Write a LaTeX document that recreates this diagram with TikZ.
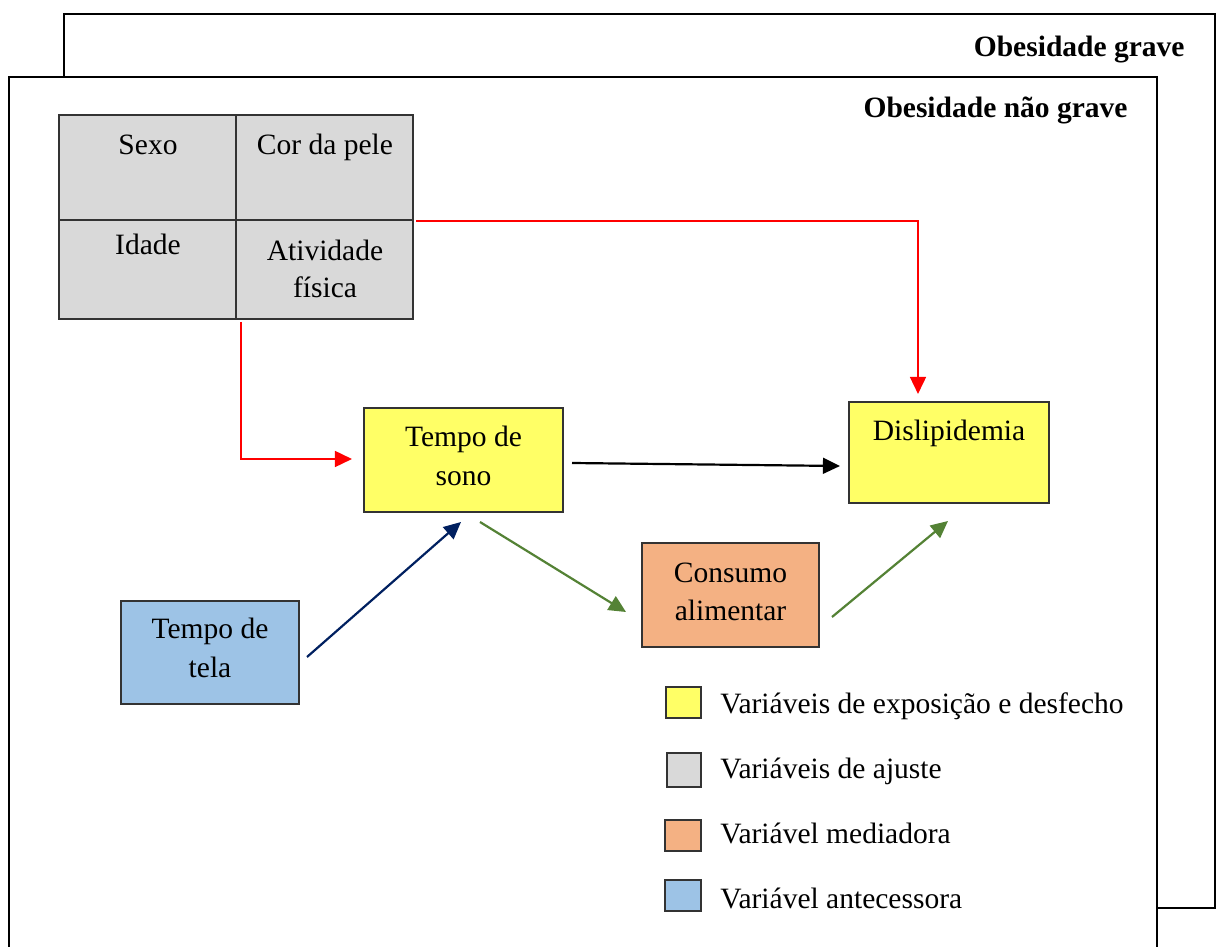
\documentclass[tikz,border=0pt]{standalone}
\usepackage{fontspec}
\setmainfont{Liberation Serif}
\usetikzlibrary{arrows.meta,calc}
\definecolor{ylw}{HTML}{FFFF66}
\definecolor{gry}{HTML}{D9D9D9}
\definecolor{org}{HTML}{F4B183}
\definecolor{blu}{HTML}{9DC3E6}
\definecolor{grn}{HTML}{548235}
\definecolor{nvy}{HTML}{002060}
\begin{document}
\begin{tikzpicture}[x=0.41pt,y=-0.41pt,
  frame/.style={draw=black, line width=0.9pt, fill=white},
  vbox/.style={draw=black!80, line width=0.45pt, rectangle, inner sep=0pt, outer sep=0pt},
  sz/.style 2 args={minimum width=#1*0.41pt, minimum height=#2*0.41pt},
  txt/.style={inner sep=0pt, align=center, font=\fontsize{12.1}{15.8}\selectfont},
  arr/.style={line width=0.9pt, -{Triangle[length=7pt,width=6.5pt]}},
]
\clip (0,0) rectangle (1217,947);
% frames
\draw[frame] (64,14) rectangle (1215,908);
\draw[frame] (9,77) rectangle (1157,990);
\node[txt, anchor=base east, font=\bfseries\fontsize{12.1}{15}\selectfont] (t1) at (1185,57) {Obesidade grave};
\node[txt, anchor=base east, font=\bfseries\fontsize{12.1}{15}\selectfont] (t2) at (1128,118) {Obesidade não grave};
% adjustment table
\node[vbox, fill=gry, sz={177}{105}] (sexo) at (147.5,167.5) {};
\node[vbox, fill=gry, sz={177}{105}] (cor) at (324.5,167.5) {};
\node[vbox, fill=gry, sz={177}{99}] (idade) at (147.5,269.5) {};
\node[vbox, fill=gry, sz={177}{99}] (ativ) at (324.5,269.5) {};
\node[txt, anchor=north] (sexo-t) at (148,134) {Sexo};
\node[txt, anchor=north] (cor-t) at (325,134) {Cor da pele};
\node[txt, anchor=north] (idade-t) at (148,234) {Idade};
\node[txt, anchor=north, font=\fontsize{12.1}{15}\selectfont] (ativ-t) at (325,240) {Atividade\\física};
% variable boxes
\node[vbox, fill=ylw, sz={199}{104}] (sono) at (463.5,460) {};
\node[txt, anchor=north] (sono-t) at (463.5,426) {Tempo de\\sono};
\node[vbox, fill=ylw, sz={200}{101}] (disl) at (949,452.5) {};
\node[txt, anchor=north] (disl-t) at (949,420) {Dislipidemia};
\node[vbox, fill=org, sz={177}{104}] (cons) at (730.5,595) {};
\node[txt, anchor=north] (cons-t) at (730.5,562) {Consumo\\alimentar};
\node[vbox, fill=blu, sz={178}{103}] (tela) at (210,652.5) {};
\node[txt, anchor=north] (tela-t) at (210,618) {Tempo de\\tela};
% legend
\node[vbox, fill=ylw, sz={35}{31}] (lg1) at (683.5,702.5) {};
\node[txt, anchor=base west] (lg1-t) at (720,713) {Variáveis de exposição e desfecho};
\node[vbox, fill=gry, sz={34}{34}] (lg2) at (684,770) {};
\node[txt, anchor=base west] (lg2-t) at (720,778) {Variáveis de ajuste};
\node[vbox, fill=org, sz={36}{31}] (lg3) at (683,835.5) {};
\node[txt, anchor=base west] (lg3-t) at (720,843) {Variável mediadora};
\node[vbox, fill=blu, sz={36}{31}] (lg4) at (683,895.5) {};
\node[txt, anchor=base west] (lg4-t) at (720,908) {Variável antecessora};
% connectors
\draw[arr, red] ($(cor.south east)+(3,1)$) -| ($(disl.north)+(-31,-8)$);
\draw[arr, red] ($(ativ.south west)+(5,3)$) |- ($(sono.west)+(-12,-1)$);
\draw[arr, black] ($(sono.east)+(9,3)$) -- ($(disl.west)+(-9,13.5)$);
\draw[arr, grn] ($(sono.south)+(16.5,10)$) -- ($(cons.west)+(-16,17)$);
\draw[arr, grn] ($(cons.east)+(13,22)$) -- ($(disl.south)+(-1,18)$);
\draw[arr, nvy] ($(tela.east)+(8,4.5)$) -- ($(sono.south)+(-2.5,10)$);
\end{tikzpicture}
\end{document}
